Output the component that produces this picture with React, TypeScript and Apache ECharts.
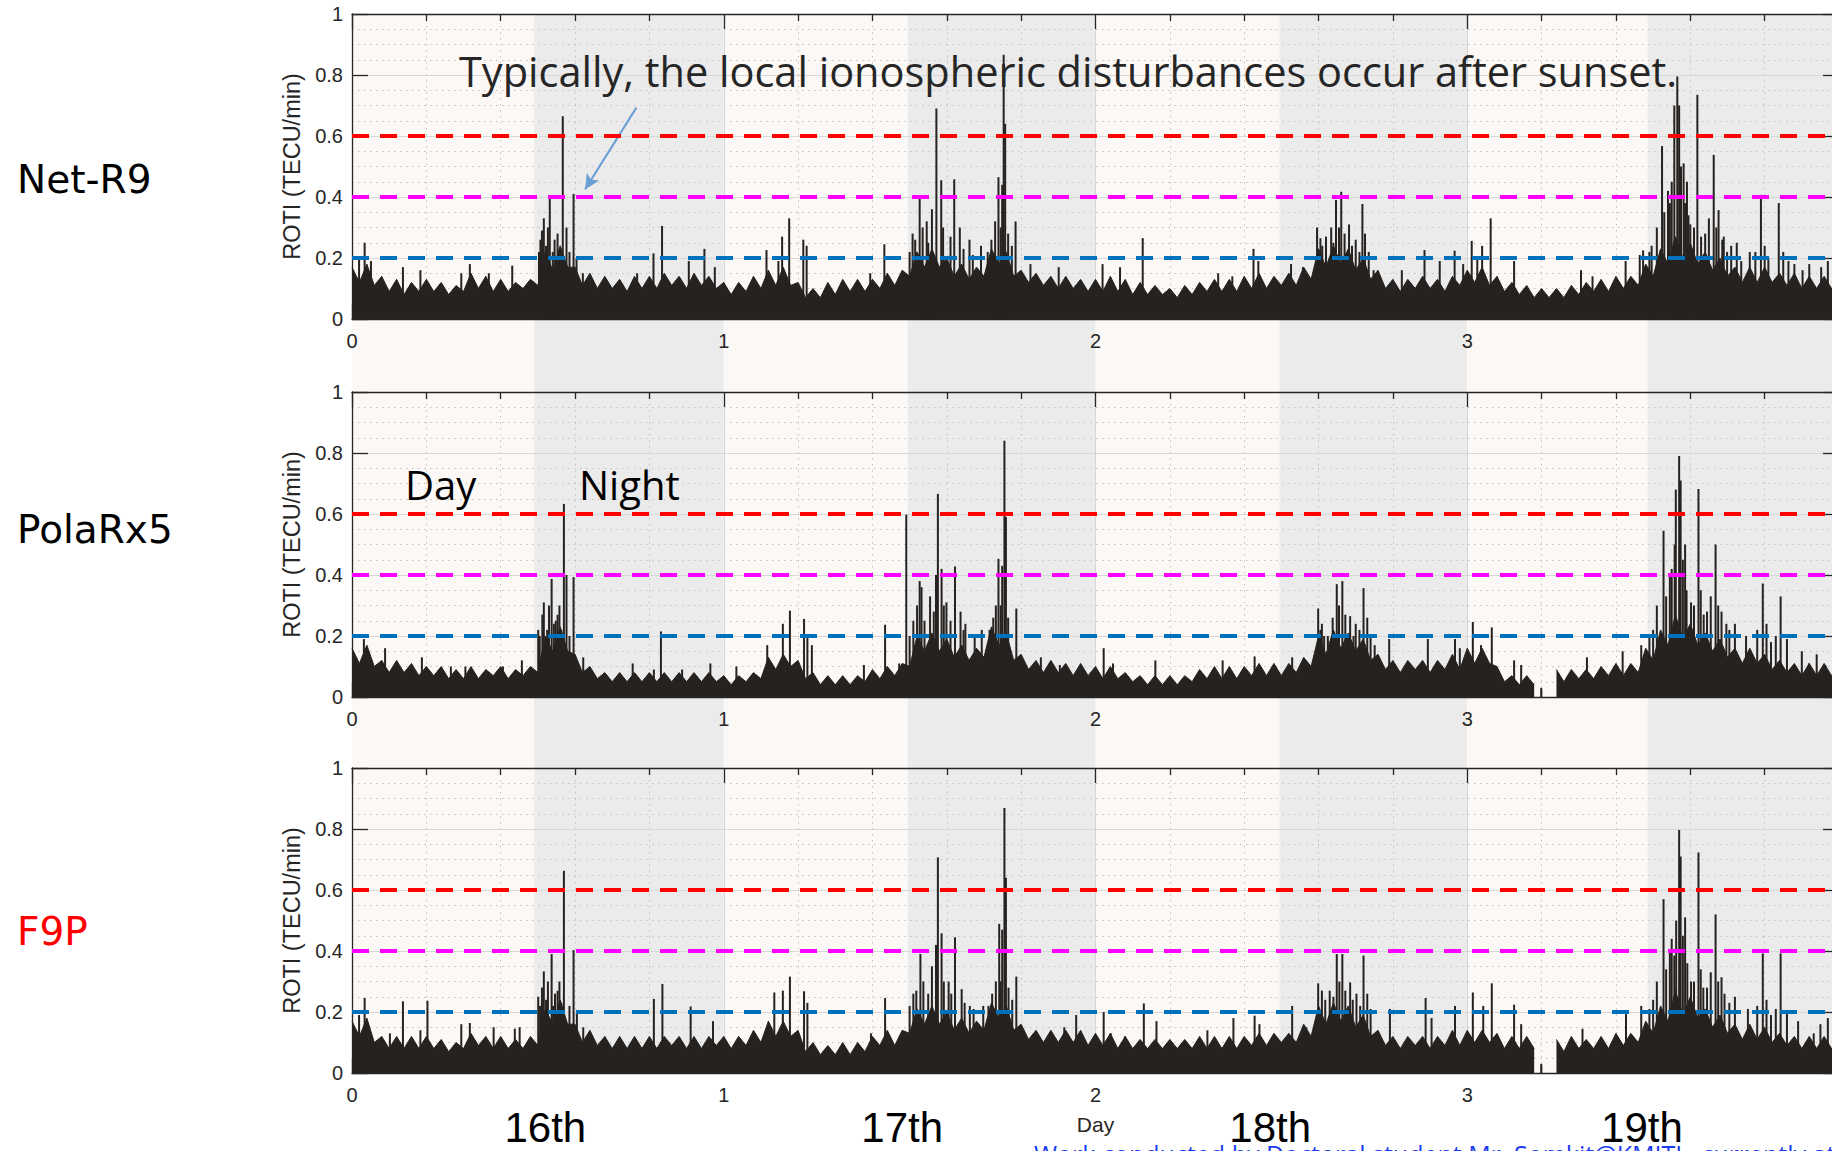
import React, { useEffect, useRef } from "react";
import * as echarts from "echarts";

// ---------- data ----------
const SAMPLE_STEP = 0.02; // days between envelope samples
const THRESHOLDS = [0.2, 0.4, 0.6];
const THRESHOLD_COLORS = ["#0072bd", "#ff00ff", "#ff0000"];
const RECEIVERS = ["Net-R9", "PolaRx5", "F9P"];
const RECEIVER_COLORS = ["#000000", "#000000", "#ff0000"];
const DATE_LABELS = ["16th", "17th", "18th", "19th"];
const DATE_LABEL_DAY = [0.52, 1.48, 2.47, 3.47];
const NIGHT_START = [0.49, 1.495, 2.495, 3.485];
const NIGHT_END = [1, 2, 3, 4];
const ARROW_FROM = [0.765, 0.693];
const ARROW_TO = [0.627, 0.425];

// dense noise envelope (ROTI, TECU/min), one value every 0.02 day from 0 to 4 (peaks / troughs)
const NETR9_BASE = [
  0.17, 0.12, 0.18, 0.11, 0.14, 0.09, 0.13, 0.08, 0.12, 0.09,
  0.13, 0.09, 0.12, 0.08, 0.11, 0.09, 0.15, 0.10, 0.14, 0.09,
  0.13, 0.09, 0.12, 0.10, 0.13, 0.11, 0.22, 0.16, 0.24, 0.17,
  0.17, 0.11, 0.15, 0.10, 0.14, 0.10, 0.13, 0.09, 0.14, 0.10,
  0.14, 0.10, 0.15, 0.11, 0.14, 0.10, 0.15, 0.11, 0.14, 0.10,
  0.12, 0.08, 0.12, 0.09, 0.14, 0.10, 0.16, 0.11, 0.17, 0.11,
  0.12, 0.07, 0.10, 0.07, 0.12, 0.08, 0.13, 0.09, 0.13, 0.09,
  0.13, 0.10, 0.15, 0.11, 0.16, 0.14, 0.22, 0.17, 0.23, 0.17,
  0.20, 0.14, 0.18, 0.13, 0.17, 0.14, 0.23, 0.18, 0.22, 0.14,
  0.16, 0.12, 0.15, 0.11, 0.14, 0.10, 0.14, 0.10, 0.13, 0.09,
  0.13, 0.09, 0.14, 0.09, 0.13, 0.08, 0.12, 0.08, 0.11, 0.08,
  0.10, 0.07, 0.11, 0.08, 0.12, 0.09, 0.13, 0.09, 0.13, 0.09,
  0.14, 0.10, 0.15, 0.10, 0.14, 0.11, 0.15, 0.11, 0.17, 0.13,
  0.23, 0.17, 0.24, 0.18, 0.23, 0.16, 0.20, 0.13, 0.16, 0.10,
  0.13, 0.09, 0.13, 0.10, 0.14, 0.10, 0.13, 0.09, 0.14, 0.11,
  0.16, 0.12, 0.17, 0.11, 0.14, 0.09, 0.12, 0.08, 0.11, 0.07,
  0.10, 0.07, 0.10, 0.07, 0.11, 0.08, 0.12, 0.09, 0.13, 0.09,
  0.14, 0.10, 0.14, 0.11, 0.18, 0.14, 0.23, 0.18, 0.27, 0.20,
  0.25, 0.18, 0.22, 0.16, 0.20, 0.14, 0.17, 0.12, 0.17, 0.12,
  0.17, 0.12, 0.15, 0.11, 0.15, 0.10, 0.14, 0.10, 0.14, 0.10,
  0.13,
];

const POLARX5_BASE = [
  0.16, 0.11, 0.17, 0.10, 0.12, 0.08, 0.12, 0.08, 0.11, 0.07,
  0.10, 0.07, 0.10, 0.06, 0.09, 0.06, 0.10, 0.06, 0.09, 0.07,
  0.10, 0.06, 0.09, 0.07, 0.10, 0.08, 0.20, 0.15, 0.23, 0.15,
  0.14, 0.08, 0.10, 0.06, 0.08, 0.05, 0.08, 0.05, 0.08, 0.05,
  0.08, 0.05, 0.08, 0.05, 0.08, 0.05, 0.08, 0.05, 0.08, 0.05,
  0.07, 0.04, 0.07, 0.05, 0.08, 0.06, 0.13, 0.09, 0.14, 0.10,
  0.12, 0.06, 0.08, 0.04, 0.07, 0.04, 0.07, 0.04, 0.07, 0.05,
  0.09, 0.06, 0.10, 0.07, 0.11, 0.10, 0.20, 0.15, 0.21, 0.15,
  0.19, 0.13, 0.17, 0.12, 0.16, 0.13, 0.23, 0.17, 0.21, 0.12,
  0.14, 0.09, 0.12, 0.08, 0.12, 0.08, 0.11, 0.07, 0.11, 0.07,
  0.10, 0.06, 0.10, 0.06, 0.08, 0.05, 0.07, 0.04, 0.07, 0.04,
  0.07, 0.04, 0.07, 0.05, 0.09, 0.06, 0.10, 0.06, 0.10, 0.06,
  0.10, 0.07, 0.11, 0.07, 0.11, 0.07, 0.11, 0.08, 0.13, 0.10,
  0.20, 0.14, 0.22, 0.16, 0.21, 0.15, 0.19, 0.12, 0.14, 0.09,
  0.12, 0.08, 0.12, 0.09, 0.12, 0.08, 0.12, 0.09, 0.14, 0.09,
  0.16, 0.11, 0.16, 0.11, 0.10, 0.05, 0.07, 0.04, 0.07, 0.04,
  null, null, 0.09, 0.05, 0.09, 0.06, 0.09, 0.06, 0.10, 0.07,
  0.11, 0.07, 0.11, 0.08, 0.16, 0.12, 0.22, 0.17, 0.27, 0.19,
  0.24, 0.17, 0.21, 0.15, 0.19, 0.13, 0.16, 0.11, 0.16, 0.11,
  0.14, 0.09, 0.12, 0.08, 0.11, 0.07, 0.11, 0.07, 0.11, 0.07,
  0.10,
];

const F9P_BASE = [
  0.17, 0.12, 0.18, 0.10, 0.12, 0.08, 0.12, 0.08, 0.12, 0.08,
  0.12, 0.08, 0.11, 0.07, 0.10, 0.08, 0.13, 0.09, 0.12, 0.08,
  0.12, 0.08, 0.11, 0.08, 0.12, 0.09, 0.21, 0.16, 0.24, 0.16,
  0.16, 0.10, 0.14, 0.09, 0.12, 0.08, 0.12, 0.08, 0.12, 0.08,
  0.12, 0.08, 0.12, 0.09, 0.12, 0.08, 0.12, 0.08, 0.12, 0.09,
  0.12, 0.08, 0.12, 0.09, 0.14, 0.10, 0.17, 0.12, 0.17, 0.12,
  0.14, 0.07, 0.10, 0.06, 0.09, 0.06, 0.10, 0.06, 0.10, 0.07,
  0.12, 0.09, 0.14, 0.09, 0.14, 0.13, 0.21, 0.16, 0.22, 0.16,
  0.20, 0.14, 0.18, 0.13, 0.17, 0.14, 0.23, 0.18, 0.22, 0.14,
  0.16, 0.11, 0.14, 0.10, 0.14, 0.10, 0.14, 0.10, 0.14, 0.09,
  0.13, 0.09, 0.13, 0.08, 0.12, 0.08, 0.11, 0.08, 0.11, 0.08,
  0.11, 0.08, 0.11, 0.08, 0.12, 0.08, 0.12, 0.08, 0.12, 0.08,
  0.12, 0.09, 0.13, 0.09, 0.13, 0.10, 0.13, 0.10, 0.16, 0.12,
  0.22, 0.16, 0.23, 0.17, 0.22, 0.15, 0.19, 0.12, 0.14, 0.09,
  0.12, 0.08, 0.12, 0.09, 0.12, 0.08, 0.12, 0.09, 0.14, 0.09,
  0.14, 0.10, 0.14, 0.10, 0.13, 0.08, 0.12, 0.08, 0.12, 0.08,
  null, null, 0.11, 0.07, 0.12, 0.08, 0.11, 0.08, 0.12, 0.08,
  0.13, 0.09, 0.13, 0.10, 0.17, 0.13, 0.22, 0.17, 0.27, 0.19,
  0.25, 0.18, 0.21, 0.15, 0.19, 0.13, 0.16, 0.11, 0.16, 0.11,
  0.15, 0.10, 0.13, 0.09, 0.12, 0.08, 0.12, 0.08, 0.12, 0.08,
  0.11,
];

// isolated spikes [day, ROTI]
const NETR9_SPIKES = [
  [0.019, 0.2], [0.034, 0.25], [0.051, 0.19], [0.137, 0.17], [0.184, 0.16], [0.294, 0.15],
  [0.317, 0.18], [0.368, 0.15], [0.431, 0.175], [0.503, 0.22], [0.507, 0.26], [0.511, 0.29],
  [0.516, 0.33], [0.522, 0.24], [0.527, 0.3], [0.532, 0.4], [0.54, 0.22], [0.545, 0.26],
  [0.553, 0.28], [0.561, 0.23], [0.567, 0.665], [0.577, 0.3], [0.585, 0.22], [0.596, 0.41],
  [0.604, 0.2], [0.621, 0.15], [0.767, 0.15], [0.811, 0.215], [0.834, 0.305], [0.906, 0.19],
  [0.948, 0.23], [0.976, 0.17], [1.115, 0.226], [1.147, 0.19], [1.157, 0.27], [1.176, 0.33],
  [1.214, 0.26], [1.223, 0.24], [1.394, 0.15], [1.432, 0.245], [1.5, 0.22], [1.508, 0.28],
  [1.515, 0.26], [1.527, 0.4], [1.535, 0.3], [1.546, 0.32], [1.55, 0.25], [1.56, 0.36],
  [1.572, 0.69], [1.585, 0.455], [1.59, 0.3], [1.61, 0.27], [1.62, 0.458], [1.635, 0.3],
  [1.645, 0.23], [1.661, 0.26], [1.67, 0.21], [1.692, 0.24], [1.71, 0.22], [1.72, 0.26],
  [1.73, 0.32], [1.739, 0.465], [1.745, 0.3], [1.749, 0.44], [1.753, 0.866], [1.757, 0.64],
  [1.765, 0.28], [1.775, 0.24], [1.785, 0.32], [1.825, 0.18], [1.901, 0.17], [2.019, 0.18],
  [2.066, 0.17], [2.127, 0.265], [2.33, 0.15], [2.368, 0.14], [2.425, 0.23], [2.438, 0.19],
  [2.526, 0.18], [2.558, 0.17], [2.596, 0.3], [2.605, 0.265], [2.61, 0.24], [2.62, 0.27],
  [2.634, 0.3], [2.64, 0.25], [2.647, 0.39], [2.655, 0.3], [2.661, 0.417], [2.67, 0.28],
  [2.682, 0.31], [2.69, 0.24], [2.7, 0.26], [2.71, 0.22], [2.718, 0.377], [2.725, 0.28],
  [2.735, 0.22], [2.748, 0.16], [2.824, 0.16], [2.885, 0.226], [2.926, 0.19], [2.966, 0.224],
  [2.989, 0.18], [3.012, 0.256], [3.027, 0.2], [3.04, 0.24], [3.063, 0.33], [3.126, 0.19],
  [3.306, 0.16], [3.337, 0.14], [3.426, 0.19], [3.464, 0.21], [3.473, 0.225], [3.49, 0.22],
  [3.496, 0.24], [3.51, 0.3], [3.524, 0.567], [3.53, 0.35], [3.54, 0.42], [3.545, 0.38],
  [3.55, 0.45], [3.557, 0.7], [3.565, 0.795], [3.57, 0.7], [3.575, 0.5], [3.582, 0.51],
  [3.586, 0.38], [3.591, 0.45], [3.595, 0.34], [3.6, 0.31], [3.61, 0.3], [3.619, 0.735],
  [3.629, 0.27], [3.64, 0.28], [3.65, 0.33], [3.663, 0.538], [3.67, 0.3], [3.676, 0.357],
  [3.686, 0.26], [3.69, 0.27], [3.699, 0.22], [3.71, 0.24], [3.725, 0.25], [3.737, 0.19],
  [3.76, 0.22], [3.775, 0.22], [3.79, 0.407], [3.8, 0.24], [3.81, 0.2], [3.838, 0.38],
  [3.85, 0.22], [3.864, 0.19], [3.88, 0.18], [3.902, 0.16], [3.92, 0.18], [3.952, 0.17],
  [3.97, 0.19],
];

const POLARX5_SPIKES = [
  [0.032, 0.19], [0.089, 0.16], [0.188, 0.13], [0.235, 0.09], [0.266, 0.1], [0.305, 0.1],
  [0.406, 0.1], [0.457, 0.12], [0.501, 0.22], [0.505, 0.2], [0.512, 0.27], [0.516, 0.31],
  [0.525, 0.22], [0.53, 0.3], [0.537, 0.387], [0.543, 0.24], [0.548, 0.25], [0.553, 0.27],
  [0.558, 0.3], [0.563, 0.22], [0.57, 0.633], [0.577, 0.4], [0.585, 0.2], [0.596, 0.393],
  [0.622, 0.13], [0.755, 0.11], [0.812, 0.09], [0.831, 0.215], [0.888, 0.09], [0.964, 0.11],
  [1.034, 0.1], [1.117, 0.17], [1.159, 0.24], [1.178, 0.283], [1.216, 0.256], [1.225, 0.2],
  [1.237, 0.17], [1.377, 0.105], [1.434, 0.237], [1.472, 0.11], [1.491, 0.598], [1.5, 0.2],
  [1.51, 0.25], [1.52, 0.3], [1.527, 0.38], [1.532, 0.36], [1.54, 0.25], [1.555, 0.33],
  [1.565, 0.28], [1.571, 0.4], [1.576, 0.666], [1.586, 0.42], [1.592, 0.3], [1.599, 0.31],
  [1.61, 0.25], [1.622, 0.428], [1.637, 0.28], [1.645, 0.22], [1.65, 0.24], [1.675, 0.2],
  [1.694, 0.22], [1.715, 0.22], [1.725, 0.26], [1.732, 0.3], [1.739, 0.453], [1.745, 0.3],
  [1.749, 0.43], [1.755, 0.84], [1.759, 0.59], [1.765, 0.26], [1.787, 0.29], [1.853, 0.13],
  [1.904, 0.105], [2.022, 0.16], [2.047, 0.11], [2.161, 0.12], [2.342, 0.12], [2.428, 0.133],
  [2.529, 0.13], [2.561, 0.12], [2.599, 0.29], [2.605, 0.22], [2.609, 0.24], [2.615, 0.2],
  [2.625, 0.2], [2.638, 0.26], [2.649, 0.37], [2.655, 0.3], [2.664, 0.38], [2.672, 0.27],
  [2.685, 0.265], [2.694, 0.2], [2.7, 0.24], [2.71, 0.22], [2.721, 0.357], [2.731, 0.26],
  [2.74, 0.2], [2.751, 0.17], [2.79, 0.19], [2.894, 0.19], [2.967, 0.19], [2.98, 0.16],
  [3.015, 0.246], [3.037, 0.17], [3.066, 0.228], [3.126, 0.12], [3.145, 0.105], [3.199, 0.03],
  [3.322, 0.13], [3.418, 0.15], [3.468, 0.17], [3.49, 0.2], [3.5, 0.22], [3.51, 0.3],
  [3.528, 0.545], [3.535, 0.33], [3.545, 0.4], [3.55, 0.42], [3.558, 0.5], [3.561, 0.68],
  [3.57, 0.79], [3.574, 0.71], [3.58, 0.45], [3.586, 0.5], [3.59, 0.35], [3.602, 0.31],
  [3.61, 0.3], [3.622, 0.682], [3.628, 0.35], [3.636, 0.27], [3.645, 0.28], [3.655, 0.33],
  [3.668, 0.5], [3.675, 0.3], [3.684, 0.28], [3.697, 0.24], [3.705, 0.22], [3.72, 0.24],
  [3.75, 0.2], [3.78, 0.22], [3.795, 0.372], [3.805, 0.24], [3.817, 0.18], [3.83, 0.2],
  [3.843, 0.33], [3.86, 0.19], [3.9, 0.15], [3.919, 0.11], [3.94, 0.14], [3.963, 0.105],
];

const F9P_SPIKES = [
  [0.019, 0.19], [0.034, 0.246], [0.102, 0.13], [0.137, 0.235], [0.184, 0.14], [0.203, 0.237],
  [0.294, 0.16], [0.317, 0.164], [0.381, 0.15], [0.438, 0.145], [0.451, 0.15], [0.501, 0.25],
  [0.506, 0.22], [0.511, 0.28], [0.516, 0.333], [0.522, 0.24], [0.527, 0.3], [0.537, 0.39],
  [0.541, 0.22], [0.546, 0.26], [0.553, 0.27], [0.558, 0.3], [0.563, 0.23], [0.57, 0.663],
  [0.585, 0.22], [0.596, 0.403], [0.605, 0.2], [0.622, 0.15], [0.812, 0.243], [0.835, 0.292],
  [0.911, 0.218], [0.971, 0.17], [1.136, 0.264], [1.159, 0.27], [1.178, 0.316], [1.216, 0.268],
  [1.225, 0.23], [1.396, 0.13], [1.434, 0.246], [1.5, 0.22], [1.51, 0.26], [1.518, 0.27],
  [1.529, 0.39], [1.537, 0.3], [1.55, 0.26], [1.56, 0.35], [1.571, 0.42], [1.576, 0.707],
  [1.586, 0.458], [1.592, 0.3], [1.605, 0.3], [1.612, 0.26], [1.622, 0.445], [1.64, 0.275],
  [1.648, 0.23], [1.662, 0.22], [1.672, 0.21], [1.698, 0.22], [1.712, 0.22], [1.722, 0.26],
  [1.732, 0.3], [1.741, 0.489], [1.745, 0.3], [1.749, 0.47], [1.755, 0.869], [1.759, 0.64],
  [1.766, 0.28], [1.776, 0.24], [1.787, 0.316], [1.916, 0.15], [1.948, 0.19], [2.022, 0.2],
  [2.041, 0.13], [2.079, 0.12], [2.13, 0.228], [2.164, 0.17], [2.301, 0.14], [2.371, 0.18],
  [2.428, 0.188], [2.441, 0.16], [2.529, 0.22], [2.567, 0.15], [2.599, 0.294], [2.609, 0.27],
  [2.618, 0.24], [2.63, 0.27], [2.64, 0.25], [2.649, 0.39], [2.656, 0.3], [2.664, 0.39],
  [2.672, 0.27], [2.685, 0.297], [2.692, 0.24], [2.702, 0.26], [2.712, 0.22], [2.721, 0.385],
  [2.731, 0.26], [2.74, 0.21], [2.792, 0.21], [2.888, 0.246], [2.904, 0.18], [2.967, 0.22],
  [3.015, 0.264], [3.043, 0.22], [3.066, 0.294], [3.126, 0.224], [3.145, 0.16], [3.199, 0.03],
  [3.31, 0.145], [3.427, 0.193], [3.468, 0.22], [3.49, 0.21], [3.5, 0.24], [3.51, 0.3],
  [3.528, 0.57], [3.535, 0.34], [3.545, 0.4], [3.55, 0.44], [3.557, 0.385], [3.562, 0.5],
  [3.57, 0.797], [3.574, 0.71], [3.58, 0.45], [3.586, 0.51], [3.592, 0.36], [3.602, 0.3],
  [3.61, 0.3], [3.622, 0.723], [3.628, 0.34], [3.635, 0.28], [3.645, 0.28], [3.655, 0.33],
  [3.668, 0.52], [3.675, 0.3], [3.684, 0.314], [3.692, 0.26], [3.705, 0.23], [3.72, 0.25],
  [3.755, 0.21], [3.78, 0.22], [3.795, 0.392], [3.805, 0.24], [3.817, 0.19], [3.83, 0.21],
  [3.843, 0.392], [3.86, 0.2], [3.89, 0.17], [3.932, 0.13], [3.95, 0.16], [3.97, 0.18],
];

const BASES = [NETR9_BASE, POLARX5_BASE, F9P_BASE];
const SPIKES = [NETR9_SPIKES, POLARX5_SPIKES, F9P_SPIKES];

// ---------- layout / style ----------
const W = 1832;
const H = 1151;
const GRID_LEFT = 352;
const GRID_WIDTH = 1487;
const PANEL_TOPS = [14, 392, 768];
const PANEL_H = 305;
const AXIS_COLOR = "#262626";
const FILL = "#262220";
const DAY_BG = "#fcf8f5";
const NIGHT_BG = "#ebebeb";
const TICK_FONT = "Liberation Sans, Arial, sans-serif";

function buildOption() {
  const grids: any[] = PANEL_TOPS.map((t) => ({
    left: GRID_LEFT,
    top: t,
    width: GRID_WIDTH,
    height: PANEL_H,
    containLabel: false,
    outerBoundsMode: "none",
  }));
  grids.push({
    left: GRID_LEFT,
    top: PANEL_TOPS[0],
    width: GRID_WIDTH,
    height: PANEL_TOPS[2] + PANEL_H - PANEL_TOPS[0],
    containLabel: false,
    outerBoundsMode: "none",
  });

  const xAxes: any[] = [];
  const yAxes: any[] = [];
  PANEL_TOPS.forEach((_, p) => {
    const tickCommon = {
      axisLine: { show: true, onZero: false, lineStyle: { color: AXIS_COLOR, width: 1.3 } },
      axisTick: { show: true, inside: true, length: 15, lineStyle: { color: AXIS_COLOR, width: 1.3 } },
      minorTick: { show: true, splitNumber: 5, length: 7, lineStyle: { color: AXIS_COLOR, width: 1.3 } },
    };
    xAxes.push({
      gridIndex: p,
      type: "value",
      min: 0,
      max: 4,
      interval: 1,
      position: "bottom",
      ...tickCommon,
      axisLabel: {
        show: true,
        margin: 12,
        color: AXIS_COLOR,
        fontSize: 20,
        fontFamily: TICK_FONT,
        showMaxLabel: false,
      },
      splitLine: { show: true, lineStyle: { color: "#d4d4d4", width: 1 } },
      minorSplitLine: { show: true, lineStyle: { color: "#c2c2c2", width: 1, type: [1.5, 4.5] } },
      name: p === 2 ? "Day" : "",
      nameLocation: "middle",
      nameGap: 41,
      nameTextStyle: { color: AXIS_COLOR, fontSize: 21, fontFamily: TICK_FONT },
    });
    xAxes.push({
      gridIndex: p,
      type: "value",
      min: 0,
      max: 4,
      interval: 1,
      position: "top",
      ...tickCommon,
      axisLabel: { show: false },
      splitLine: { show: false },
      minorSplitLine: { show: false },
    });
    const yTick = {
      axisLine: { show: true, onZero: false, lineStyle: { color: AXIS_COLOR, width: 1.3 } },
      axisTick: { show: true, inside: true, length: 16, lineStyle: { color: AXIS_COLOR, width: 1.3 } },
    };
    yAxes.push({
      gridIndex: p,
      type: "value",
      min: 0,
      max: 1,
      interval: 0.2,
      position: "left",
      ...yTick,
      minorTick: { show: false, splitNumber: 4 },
      axisLabel: { show: true, margin: 9, color: AXIS_COLOR, fontSize: 20, fontFamily: TICK_FONT },
      splitLine: { show: true, lineStyle: { color: "#d8d8d8", width: 1.2 } },
      minorSplitLine: { show: true, lineStyle: { color: "#c2c2c2", width: 1, type: [1.5, 4.5] } },
      name: "ROTI (TECU/min)",
      nameLocation: "middle",
      nameRotate: 90,
      nameGap: 46,
      nameTextStyle: { color: AXIS_COLOR, fontSize: 23.5, fontFamily: TICK_FONT },
    });
    yAxes.push({
      gridIndex: p,
      type: "value",
      min: 0,
      max: 1,
      interval: 0.2,
      position: "right",
      ...yTick,
      axisLabel: { show: false },
      splitLine: { show: false },
    });
  });
  xAxes.push({ gridIndex: 3, type: "value", min: 0, max: 4, show: false });
  yAxes.push({ gridIndex: 3, type: "value", min: 0, max: 1, show: false });

  const bands: number[][] = [];
  NIGHT_START.forEach((ns, i) => {
    const dayStart = i === 0 ? 0 : NIGHT_END[i - 1];
    bands.push([dayStart, ns, 0]);
    bands.push([ns, NIGHT_END[i], 1]);
  });

  const series: any[] = [
    {
      type: "custom",
      xAxisIndex: 6,
      yAxisIndex: 6,
      z: -1,
      silent: true,
      clip: false,
      data: bands,
      renderItem: (params: any, api: any) => {
        const a = api.coord([api.value(0), 1]);
        const b = api.coord([api.value(1), 0]);
        return {
          type: "rect",
          shape: { x: a[0], y: a[1], width: b[0] - a[0], height: b[1] - a[1] },
          style: { fill: api.value(2) ? NIGHT_BG : DAY_BG },
        };
      },
    },
  ];

  PANEL_TOPS.forEach((_, p) => {
    const areaSeries: any = {
      type: "line",
      xAxisIndex: 2 * p,
      yAxisIndex: 2 * p,
      data: BASES[p].map((v, i) => [Number((i * SAMPLE_STEP).toFixed(2)), v]),
      symbol: "none",
      showSymbol: false,
      connectNulls: false,
      silent: true,
      z: 2,
      lineStyle: { color: FILL, width: 1 },
      areaStyle: { color: FILL, opacity: 1 },
    };
    if (p === 0) {
      areaSeries.markLine = {
        silent: true,
        symbol: ["none", "arrow"],
        symbolSize: [11, 15],
        label: { show: false },
        lineStyle: { color: "#6a9fd4", width: 2, type: "solid" },
        data: [[{ coord: ARROW_FROM }, { coord: ARROW_TO }]],
      };
    }
    series.push(areaSeries);
    series.push({
      type: "bar",
      xAxisIndex: 2 * p,
      yAxisIndex: 2 * p,
      data: SPIKES[p],
      barWidth: 2,
      silent: true,
      z: 3,
      itemStyle: { color: FILL },
      markLine: {
        silent: true,
        symbol: ["none", "none"],
        label: { show: false },
        data: THRESHOLDS.map((t, i) => ({
          yAxis: t,
          lineStyle: { color: THRESHOLD_COLORS[i], width: 4, type: [17, 11] },
        })),
      },
    });
  });

  const txt = (text: string, x: number, y: number, size: number, family: string, fill: string, align = "left") => ({
    type: "text",
    x,
    y,
    z: 100,
    silent: true,
    style: {
      text,
      fill,
      fontSize: size,
      fontFamily: family,
      align,
      textAlign: align,
      verticalAlign: "middle",
      textVerticalAlign: "middle",
    },
  });

  const elements: any[] = [
    txt("Typically, the local ionospheric disturbances occur after sunset.", 459, 71, 41.5, "Open Sans", "#262626"),
    txt("Day", 405, 484, 40, "Open Sans", "#000000"),
    txt("Night", 579, 484, 40, "Open Sans", "#000000"),
    txt("Work conducted by Doctoral student Mr. Somkit@KMITL, currently at", 1034, 1154, 25, "Open Sans", "#1a3cf0"),
  ];
  const labelYs = [179, 529, 931];
  RECEIVERS.forEach((r, i) => {
    elements.push(txt(r, 17, labelYs[i], 39, "DejaVu Sans", RECEIVER_COLORS[i]));
  });
  DATE_LABELS.forEach((d, i) => {
    elements.push(
      txt(d, GRID_LEFT + (DATE_LABEL_DAY[i] * GRID_WIDTH) / 4, 1127, 42, TICK_FONT, "#000000", "center")
    );
  });

  return {
    animation: false,
    backgroundColor: "#ffffff",
    grid: grids,
    xAxis: xAxes,
    yAxis: yAxes,
    series,
    graphic: { elements },
  };
}

export default function App() {
  const ref = useRef<HTMLDivElement>(null);
  useEffect(() => {
    if (!ref.current) return;
    document.body.style.margin = "0";
    document.body.style.overflow = "hidden";
    const chart = echarts.init(ref.current, null, { renderer: "svg", width: W, height: H });
    chart.setOption(buildOption());
    return () => chart.dispose();
  }, []);
  return <div ref={ref} style={{ position: "absolute", left: 0, top: 0, width: W, height: H }} />;
}
